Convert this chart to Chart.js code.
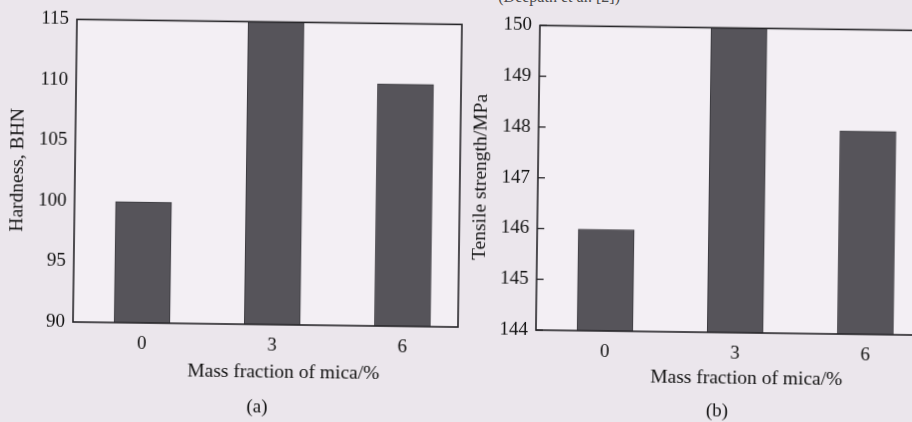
<!DOCTYPE html>
<html>
<head>
<meta charset="utf-8">
<script src="https://cdn.jsdelivr.net/npm/chart.js@4/dist/chart.umd.min.js"></script>
<style>
  html, body { margin: 0; padding: 0; }
  body { width: 912px; height: 422px; overflow: hidden; background: #ebe6ec; position: relative; }
  #header { position: absolute; right: 292px; top: -12px; font: 16px "Liberation Serif", serif; color: #4a4a4a; white-space: nowrap; }
  #sheet { position: absolute; left: 0; top: 0; width: 912px; height: 422px;
           transform: rotate(0.75deg); transform-origin: 73px 322px; }
  canvas { position: absolute; top: 0; }
  #chartA { left: 0; }
  #chartB { left: 463px; }
</style>
</head>
<body>
<div id="header">(Deepath et al. [2])</div>
<div id="sheet">
  <canvas id="chartA" width="470" height="422"></canvas>
  <canvas id="chartB" width="470" height="422"></canvas>
</div>
<script>
// Mass fraction of mica (%) on the x axis of both panels
const massFractions = [0, 3, 6];
// Panel (a): hardness, BHN
const hardnessBHN = [100, 115, 110];
const hardnessTicks = [90, 95, 100, 105, 110, 115];
// Panel (b): tensile strength, MPa
const tensileMPa = [146, 150, 148];
const tensileTicks = [144, 145, 146, 147, 148, 149, 150];

const SERIF = '"Liberation Serif", "Times New Roman", serif';
const INK = '#121212';

// Frame, plot background, inward tick marks and the lower captions
const panelDecor = {
  id: 'panelDecor',
  beforeDraw(chart) {
    const { ctx, chartArea: a } = chart;
    ctx.save();
    ctx.fillStyle = '#f3eff4';
    ctx.fillRect(a.left, a.top, a.right - a.left, a.bottom - a.top);
    ctx.restore();
  },
  afterDatasetsDraw(chart, args, opts) {
    const { ctx, chartArea: a } = chart;
    ctx.save();
    ctx.strokeStyle = '#262528';
    ctx.lineWidth = 1.6;
    ctx.strokeRect(a.left, a.top, a.right - a.left, a.bottom - a.top);
    if (opts.innerTicks) {
      const y = chart.scales.y;
      ctx.lineWidth = 1.3;
      y.ticks.forEach(t => {
        const py = y.getPixelForValue(t.value);
        ctx.beginPath();
        ctx.moveTo(a.left, py);
        ctx.lineTo(a.left + 7, py);
        ctx.stroke();
      });
    }
    ctx.restore();
  },
  afterDraw(chart, args, opts) {
    const { ctx } = chart;
    ctx.save();
    ctx.fillStyle = INK;
    ctx.textAlign = 'center';
    ctx.textBaseline = 'middle';
    ctx.font = '19.5px ' + SERIF;
    ctx.fillText(opts.xTitle, 284, 370);
    ctx.font = '19px ' + SERIF;
    ctx.fillText(opts.caption, opts.captionX, opts.captionY);
    ctx.restore();
  }
};

function panel(canvasId, values, yTicks, yTitle, caption, o) {
  return new Chart(document.getElementById(canvasId), {
    type: 'bar',
    data: {
      datasets: [{
        data: massFractions.map((m, i) => ({ x: m, y: values[i] })),
        backgroundColor: '#56545a',
        borderColor: '#3b3a3f',
        borderWidth: 1,
        barThickness: 56
      }]
    },
    options: {
      responsive: false,
      animation: false,
      layout: { padding: { top: o.top, right: 12, left: 0, bottom: 0 } },
      plugins: {
        legend: { display: false },
        tooltip: { enabled: false },
        panelDecor: {
          innerTicks: o.innerTicks,
          xTitle: 'Mass fraction of mica/%',
          caption: caption,
          captionX: o.captionX,
          captionY: o.captionY
        }
      },
      scales: {
        x: {
          type: 'linear',
          offset: false,
          min: -1.59,
          max: 7.28,
          grid: { display: false, drawTicks: false, offset: false },
          border: { display: false },
          afterBuildTicks: s => { s.ticks = massFractions.map(v => ({ value: v })); },
          afterFit: s => { s.height = o.xHeight; },
          ticks: { padding: 10, color: INK, font: { family: SERIF, size: 19 } }
        },
        y: {
          min: yTicks[0],
          max: yTicks[yTicks.length - 1],
          grid: { display: false, drawTicks: false },
          border: { display: false },
          afterBuildTicks: s => { s.ticks = yTicks.map(v => ({ value: v })); },
          afterFit: s => { s.width = 73; },
          ticks: { padding: o.tickPad, color: INK, font: { family: SERIF, size: 19 } },
          title: {
            display: true,
            text: yTitle,
            color: INK,
            padding: { top: 4, bottom: 0 },
            font: { family: SERIF, size: 19.5 }
          }
        }
      }
    },
    plugins: [panelDecor]
  });
}

panel('chartA', hardnessBHN, hardnessTicks, 'Hardness, BHN', '(a)',
      { top: 15, xHeight: 100, innerTicks: false, tickPad: 8, captionX: 258, captionY: 405 });
panel('chartB', tensileMPa, tensileTicks, 'Tensile strength/MPa', '(b)',
      { top: 16, xHeight: 98, innerTicks: true, tickPad: 8, captionX: 255, captionY: 403 });
</script>
</body>
</html>
